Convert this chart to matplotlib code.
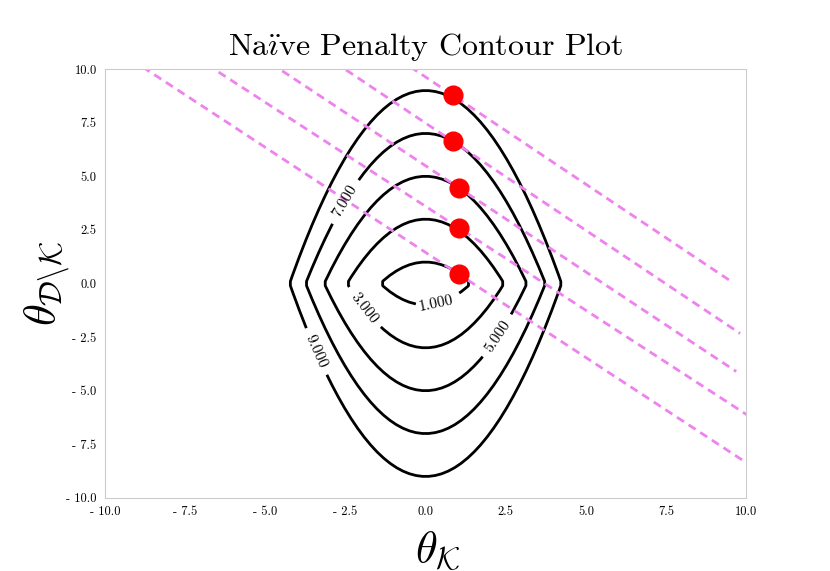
import matplotlib
matplotlib.use("Agg")
import matplotlib.pyplot as plt
import numpy as np

plt.rcParams['font.family'] = ['cmr10', 'DejaVu Serif']
plt.rcParams['mathtext.fontset'] = 'cm'
plt.rcParams['axes.unicode_minus'] = False

# contour levels of the naive penalty
levels = [1, 3, 5, 7, 9]
label_pos = [(0.3, -0.77), (-1.8, -1.0), (2.2, -2.4), (-2.6, 3.9), (-3.6, -3.3)]

pt_x = [0.85, 0.85, 1.04, 1.04, 1.04]
pt_y = [8.78, 6.63, 4.46, 2.59, 0.43]
line_slope = [-1.0, -1.0, -0.99, -0.97, -0.98]
line_x0 = [-3.0, -5.0, -7.0, -9.0, -11.0]
line_x1 = [9.55, 9.81, 9.69, 10.5, 10.5]

ticks = [-10.0, -7.5, -5.0, -2.5, 0.0, 2.5, 5.0, 7.5, 10.0]
tick_labels = ["- 10.0", "- 7.5", "- 5.0", "- 2.5", "0.0", "2.5", "5.0", "7.5", "10.0"]

# grid for the penalty surface
g = np.linspace(-10, 10, 100)
X, Y = np.meshgrid(g, g)
Z = X ** 2 / 2 + np.abs(Y)

fig = plt.figure(figsize=(8.3, 5.71), dpi=100)
ax = fig.add_axes([0.1265, 0.128, 0.7725, 0.751])

cs = ax.contour(X, Y, Z, levels=levels, colors='black', linewidths=2)
ax.clabel(cs, fmt='%.3f', fontsize=11, inline=True, inline_spacing=8, manual=label_pos)

for x0, y0, m, xa, xb in zip(pt_x, pt_y, line_slope, line_x0, line_x1):
    xs = np.array([xa, xb])
    ys = y0 + m * (xs - x0)
    ax.plot(xs, ys, color='violet', linestyle='--', linewidth=2, dashes=(3, 2))

ax.plot(pt_x, pt_y, 'o', color='red', markersize=13.5, zorder=5)

ax.set_xlim(-10, 10)
ax.set_ylim(-10, 10)
ax.set_xticks(ticks)
ax.set_xticklabels(tick_labels)
ax.set_yticks(ticks)
ax.set_yticklabels(tick_labels)
ax.tick_params(length=0, labelsize=9, pad=6)
for s in ax.spines.values():
    s.set_color('#cccccc')

ax.set_title(r"Na$\mathrm{\ddot{\imath}}$ve Penalty Contour Plot", fontsize=23, pad=10)
ax.set_xlabel(r"$\theta_{\mathcal{K}}$", fontsize=32)
ax.xaxis.set_label_coords(0.519, -0.072)
ax.set_ylabel(r"$\theta_{\mathcal{D}\backslash\mathcal{K}}$", fontsize=32, labelpad=-4)

fig.savefig("out.png", dpi=100)
